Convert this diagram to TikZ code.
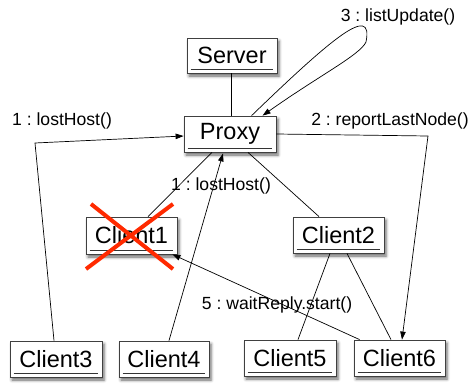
\documentclass[tikz,border=0pt]{standalone}
\usepackage{fontspec}
\setmainfont{Liberation Sans}
\frenchspacing
\usetikzlibrary{calc,arrows.meta,shadows.blur}
\begin{document}
\begin{tikzpicture}[x=1pt,y=-1pt,
  obj/.style={draw=black!75,line width=0.8pt,fill=white,minimum height=36pt,
    inner sep=0pt,font=\fontsize{23.5}{25}\selectfont,
    blur shadow={shadow xshift=2pt,shadow yshift=-3pt,shadow blur radius=3pt,shadow opacity=60}},
  conn/.style={line width=0.7pt,black},
  arr/.style={conn,-{Triangle[length=8pt,width=5.5pt]}},
  lbl/.style={font=\fontsize{17.6}{19}\selectfont,inner sep=0pt},
  uline/.style={line width=0.7pt,black!80}
]
\useasboundingbox (0,0) rectangle (472,386);

\node[obj,minimum width=90pt,minimum height=35pt] (server) at (232,55.5) {Server};
\node[obj,minimum width=92pt] (proxy) at (230,134) {Proxy};
\node[obj,minimum width=91pt,minimum height=37pt] (client1) at (131.5,235.5) {Client1};
\node[obj,minimum width=91pt] (client2) at (338.5,235) {Client2};
\node[obj,minimum width=92pt] (client3) at (56,359) {Client3};
\node[obj,minimum width=90pt] (client4) at (164,359) {Client4};
\node[obj,minimum width=92pt] (client5) at (290,358) {Client5};
\node[obj,minimum width=91pt] (client6) at (399.5,358) {Client6};

\foreach \n in {server,proxy,client1,client2,client3,client4,client5,client6}{
  \draw[uline] ($(\n.south west)+(4,-4)$) -- ($(\n.south east)+(-4,-4)$);
}

% Server - Proxy
\draw[conn] ($(server.south)+(-1,0)$) -- ($(proxy.north)+(1,0)$);
% self loop
\draw[arr] ($(proxy.north west)+(68,0)$) .. controls (330,40) and (374,2) .. (366,42)
  .. controls (360,55) and (320,75) .. ($(proxy.north west)+(79,0)$);
\node[lbl] (l3) at (398,17) {3 : listUpdate()};
% Proxy -> Client6
\coordinate (c6bend) at (428,136);
\draw[arr] (proxy.east) -- (c6bend) -- ($(client6.north)+(2.5,0)$);
\node[lbl] (l2) at (390,121) {2 : reportLastNode()};
% Client3 -> Proxy
\coordinate (c3bend) at (35,143);
\draw[arr] ($(client3.north)+(-2,0)$) -- (c3bend) -- ($(proxy.west)+(0,2)$);
\node[lbl] (l1a) at (62,121) {1 : lostHost()};
% Client1 - Proxy
\draw[conn] ($(client1.north)+(16.5,0)$) -- ($(proxy.south)+(-18,0)$);
% Client4 -> Proxy
\draw[arr] ($(client4.north)+(5,0)$) -- ($(proxy.south)+(-7,1)$);
\node[lbl] (l1b) at (221,186) {1 : lostHost()};
% Proxy - Client2
\draw[conn] ($(proxy.south)+(18,0)$) -- ($(client2.north)+(-19.5,0)$);
% Client2 - Client5 / Client6
\draw[conn] ($(client2.south)+(-8.5,0)$) -- ($(client5.north)+(8,0)$);
\draw[conn] ($(client2.south)+(8.5,0)$) -- ($(client6.north)+(-8.5,0)$);
% Client6 -> Client1
\draw[arr] ($(client6.north west)+(6,0)$) -- ($(client1.south east)+(-5,0)$);
\node[lbl] (l5) at (277,305) {5 : waitReply.start()};

% red cross
\draw[line width=4pt,color={rgb,255:red,255;green,42;blue,0}] (91,204) -- (173,269) (173,204) -- (86,269);
\end{tikzpicture}
\end{document}
